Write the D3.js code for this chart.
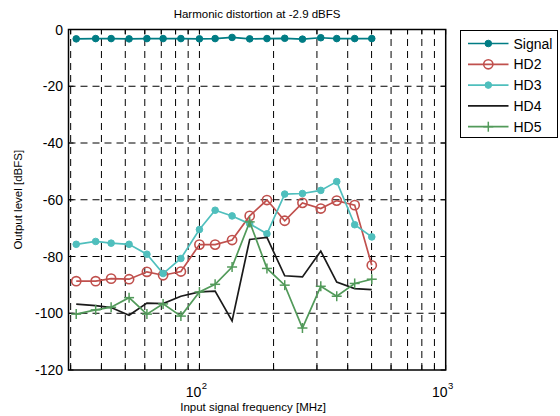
<!DOCTYPE html>
<html>
<head>
<meta charset="utf-8">
<script src="https://cdn.jsdelivr.net/npm/d3@7"></script>
<style>
  body { margin: 0; background: #fff; }
  text { font-family: "Liberation Sans", Arial, sans-serif; fill: #000; }
</style>
</head>
<body>
<div id="chart"></div>
<script>
// input frequencies [MHz]
const freqs = [31.6, 37.9, 43.8, 51.8, 61.2, 71.2, 84.1, 100, 115.8, 135.7, 160, 188, 222, 262, 311, 361, 427, 501];

// output levels [dBFS]
const signal = [-3.3, -3.2, -3.2, -3.3, -3.2, -3.2, -3.2, -3.3, -3.2, -2.8, -3.3, -3.2, -3.1, -3.4, -2.9, -3.2, -3.2, -3.2];
const hd2 = [-88.7, -88.7, -87.8, -88, -85.4, -86.6, -85.3, -75.8, -75.8, -74.2, -65.7, -60.1, -67.4, -61.1, -63.1, -60.3, -61.9, -83.1];
const hd3 = [-75.7, -74.7, -75.3, -75.7, -79.2, -86.0, -80.7, -70.5, -63.7, -65.7, -68.5, -72, -58.0, -57.8, -56.7, -53.6, -68.8, -73.1];
const hd4 = [-96.8, -97.3, -98, -100.7, -96.4, -96.6, -94, -92.5, -92.2, -102.7, -74, -73.3, -86.8, -87.2, -78.1, -89, -91.3, -91.7];
const hd5 = [-100.3, -98.8, -97.9, -94.5, -100.3, -96.7, -101, -92.5, -89.8, -83.7, -67.8, -84.2, -90.1, -105.2, -90.5, -94, -89.5, -88];

const seriesNames = ['Signal', 'HD2', 'HD3', 'HD4', 'HD5'];
const xGridValues = [30, 40, 50, 60, 70, 80, 90, 100, 200, 300, 400, 500, 600, 700, 800, 900];
const xLabelValues = [100, 1000];
const yTickValues = [0, -20, -40, -60, -80, -100, -120];

const series = [
  {name: 'Signal', values: signal, color: '#007c84', marker: 'dot'},
  {name: 'HD2', values: hd2, color: '#c0504d', marker: 'circle'},
  {name: 'HD3', values: hd3, color: '#4fbfbd', marker: 'dot'},
  {name: 'HD4', values: hd4, color: '#1a1a1a', marker: 'none'},
  {name: 'HD5', values: hd5, color: '#529a5a', marker: 'plus'}
];

const svg = d3.select('#chart').append('svg')
    .attr('width', 560)
    .attr('height', 416);

const plot = {left: 68.5, right: 445.7, top: 29.5, bottom: 370};

const x = d3.scaleLog().domain([29.4, 1000]).range([plot.left, plot.right]);
const y = d3.scaleLinear().domain([-120, 0]).range([plot.bottom, plot.top]);

// title
svg.append('text')
    .attr('x', (plot.left + plot.right) / 2)
    .attr('y', 18)
    .attr('text-anchor', 'middle')
    .style('font-size', '11.5px')
    .text('Harmonic distortion at -2.9 dBFS');

// grid
const grid = svg.append('g')
    .attr('stroke', '#000')
    .attr('stroke-width', 1)
    .attr('stroke-dasharray', '7,5');

grid.selectAll('line.vx')
    .data(xGridValues)
    .join('line')
    .attr('class', 'vx')
    .attr('x1', d => x(d)).attr('x2', d => x(d))
    .attr('y1', plot.bottom).attr('y2', plot.top);

grid.selectAll('line.hy')
    .data(yTickValues.filter(d => d !== 0 && d !== -120))
    .join('line')
    .attr('class', 'hy')
    .attr('x1', plot.left).attr('x2', plot.right)
    .attr('y1', d => y(d)).attr('y2', d => y(d));

// inside ticks
const ticks = svg.append('g').attr('stroke', '#000').attr('stroke-width', 1);
xGridValues.concat([1000]).forEach(v => {
  ticks.append('line').attr('x1', x(v)).attr('x2', x(v)).attr('y1', plot.bottom).attr('y2', plot.bottom - 5);
  ticks.append('line').attr('x1', x(v)).attr('x2', x(v)).attr('y1', plot.top).attr('y2', plot.top + 5);
});
yTickValues.forEach(v => {
  ticks.append('line').attr('x1', plot.left).attr('x2', plot.left + 5).attr('y1', y(v)).attr('y2', y(v));
  ticks.append('line').attr('x1', plot.right).attr('x2', plot.right - 5).attr('y1', y(v)).attr('y2', y(v));
});

// frame
svg.append('rect')
    .attr('x', plot.left)
    .attr('y', plot.top)
    .attr('width', plot.right - plot.left)
    .attr('height', plot.bottom - plot.top)
    .attr('fill', 'none')
    .attr('stroke', '#000')
    .attr('stroke-width', 1.5);

// y tick labels
svg.selectAll('text.ylab')
    .data(yTickValues)
    .join('text')
    .attr('class', 'ylab')
    .attr('x', plot.left - 5.5)
    .attr('y', d => y(d))
    .attr('dy', '0.36em')
    .attr('text-anchor', 'end')
    .style('font-size', '14px')
    .text(d => d);

// x tick labels as 10^n
xLabelValues.forEach(v => {
  const t = svg.append('text')
      .attr('x', x(v) - 3)
      .attr('y', 397)
      .attr('text-anchor', 'middle')
      .style('font-size', '14px');
  t.append('tspan').text('10');
  t.append('tspan')
      .attr('dy', -8)
      .attr('dx', 0.5)
      .style('font-size', '9.5px')
      .text(Math.round(Math.log10(v)));
});

// axis labels
svg.append('text')
    .attr('x', (plot.left + plot.right) / 2 - 4)
    .attr('y', 411)
    .attr('text-anchor', 'middle')
    .style('font-size', '11.5px')
    .text('Input signal frequency [MHz]');

svg.append('text')
    .attr('transform', 'translate(22,' + ((plot.top + plot.bottom) / 2) + ') rotate(-90)')
    .attr('text-anchor', 'middle')
    .style('font-size', '11.5px')
    .text('Output level [dBFS]');

// series
const line = d3.line()
    .x(d => x(d[0]))
    .y(d => y(d[1]));

function drawMarker(g, kind, color) {
  if (kind === 'dot') {
    g.append('circle').attr('r', 3.3).attr('fill', color).attr('stroke', color);
  } else if (kind === 'circle') {
    g.append('circle').attr('r', 4.6).attr('fill', 'none').attr('stroke', color).attr('stroke-width', 1.6);
  } else if (kind === 'plus') {
    g.append('line').attr('x1', -5).attr('x2', 5).attr('stroke', color).attr('stroke-width', 1.5);
    g.append('line').attr('y1', -5).attr('y2', 5).attr('stroke', color).attr('stroke-width', 1.5);
  }
}

const seriesG = svg.append('g');
series.forEach(s => {
  const pts = freqs.map((f, i) => [f, s.values[i]]);
  seriesG.append('path')
      .datum(pts)
      .attr('fill', 'none')
      .attr('stroke', s.color)
      .attr('stroke-width', 1.7)
      .attr('d', line);
  pts.forEach(p => {
    const g = seriesG.append('g').attr('transform', 'translate(' + x(p[0]) + ',' + y(p[1]) + ')');
    drawMarker(g, s.marker, s.color);
  });
});

// legend
const legend = svg.append('g');
legend.append('rect')
    .attr('x', 460.5)
    .attr('y', 30.5)
    .attr('width', 97)
    .attr('height', 107)
    .attr('fill', '#fff')
    .attr('stroke', '#000')
    .attr('stroke-width', 1);

series.forEach((s, i) => {
  const cy = 43.5 + i * 20.8;
  const row = legend.append('g');
  row.append('line')
      .attr('x1', 468).attr('x2', 508.5)
      .attr('y1', cy).attr('y2', cy)
      .attr('stroke', s.color)
      .attr('stroke-width', 1.7);
  const m = row.append('g').attr('transform', 'translate(488.3,' + cy + ')');
  drawMarker(m, s.marker, s.color);
  row.append('text')
      .attr('x', 513.5)
      .attr('y', cy)
      .attr('dy', '0.36em')
      .style('font-size', '14px')
      .text(seriesNames[i]);
});
</script>
</body>
</html>
